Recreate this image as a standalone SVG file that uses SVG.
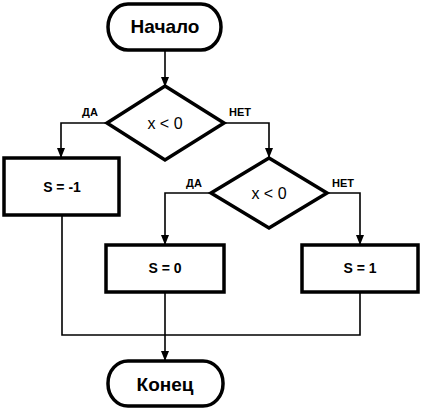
<svg xmlns="http://www.w3.org/2000/svg" width="422" height="412" viewBox="0 0 422 412">
<defs>
<marker id="arr" markerWidth="10" markerHeight="10" refX="9" refY="5" orient="auto" markerUnits="userSpaceOnUse">
<path d="M0,1 L10,5 L0,9 Z" fill="#000"/>
</marker>
<style>
.sh{fill:#fff;stroke:#000;stroke-width:3.5}
.ln{fill:none;stroke:#000;stroke-width:1.6}
.t{font-family:"Liberation Sans",Arial,sans-serif;text-anchor:middle;fill:#000}
.big{font-size:19px;font-weight:bold}
.mid{font-size:16px}
.bx{font-size:14px;font-weight:bold}
.lb{font-size:11px;font-weight:bold}
</style>
</defs>
<rect width="422" height="412" fill="#fff"/>
<g id="connectors">
<path class="ln" d="M165,50 V86" marker-end="url(#arr)"/>
<path class="ln" d="M107,123 H61 V157" marker-end="url(#arr)"/>
<path class="ln" d="M224,123 H269 V157" marker-end="url(#arr)"/>
<path class="ln" d="M211,193 H165 V244" marker-end="url(#arr)"/>
<path class="ln" d="M327,193 H360 V244" marker-end="url(#arr)"/>
<path class="ln" d="M62,215 V335 H360 V292"/>
<path class="ln" d="M165,292 V360" marker-end="url(#arr)"/>
<text class="t lb" x="90" y="116">ДА</text>
<text class="t lb" x="240" y="116">НЕТ</text>
<text class="t lb" x="194" y="187">ДА</text>
<text class="t lb" x="343" y="187">НЕТ</text>
</g>
<g id="start">
<rect class="sh" x="108" y="4" width="113" height="46" rx="20" ry="23"/>
<text class="t big" x="165" y="33">Начало</text>
</g>
<g id="cond1">
<polygon class="sh" points="165,86 224,123 165,160 107,123"/>
<text class="t mid" x="165" y="129">x &lt; 0</text>
</g>
<g id="s_neg">
<rect class="sh" x="4" y="158" width="115" height="57"/>
<text class="t bx" x="62" y="192">S = -1</text>
</g>
<g id="cond2">
<polygon class="sh" points="269,158 327,193 269,228 211,193"/>
<text class="t mid" x="269" y="199">x &lt; 0</text>
</g>
<g id="s_zero">
<rect class="sh" x="106" y="245" width="118" height="47"/>
<text class="t bx" x="165" y="273">S = 0</text>
</g>
<g id="s_one">
<rect class="sh" x="302" y="245" width="116" height="47"/>
<text class="t bx" x="360" y="273">S = 1</text>
</g>
<g id="end">
<rect class="sh" x="108" y="361" width="115" height="45" rx="20" ry="22"/>
<text class="t big" x="165" y="391">Конец</text>
</g>
</svg>
